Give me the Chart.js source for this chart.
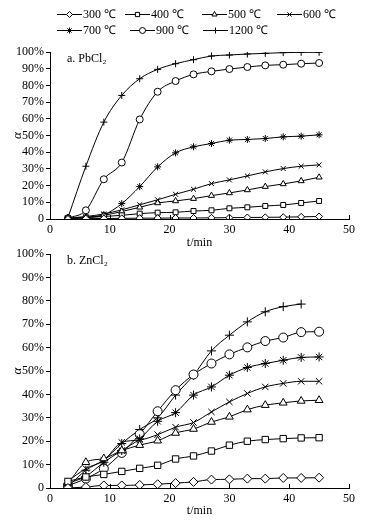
<!DOCTYPE html>
<html>
<head>
<meta charset="utf-8">
<script src="https://cdn.jsdelivr.net/npm/chart.js@4/dist/chart.umd.min.js"></script>
<style>
  body { margin: 0; background: #fff; }
  #wrapA { position: absolute; left: 0; top: 0; width: 366px; height: 250px; }
  #wrapB { position: absolute; left: 0; top: 240px; width: 366px; height: 278px; }
</style>
</head>
<body>
<div id="wrapA"><canvas id="chartA" width="366" height="250"></canvas></div>
<div id="wrapB"><canvas id="chartB" width="366" height="278"></canvas></div>
<script>
const FONT = "'Liberation Serif', 'Times New Roman', serif";

const times = [3, 6, 9, 12, 15, 18, 21, 24, 27, 30, 33, 36, 39, 42, 45];
const seriesNames = ["300 ℃", "400 ℃", "500 ℃", "600 ℃", "700 ℃", "900 ℃", "1200 ℃"];
const markers = ["rectRot", "rect", "triangle", "crossRot", "star", "circle", "cross"];
const xTicks = [0, 10, 20, 30, 40, 50];
const yTicks = [0, 10, 20, 30, 40, 50, 60, 70, 80, 90, 100];

// a. PbCl2, alpha in %
const pb300  = [0, 0.2, 0.3, 0.4, 0.5, 0.5, 0.6, 0.6, 0.7, 0.8, 0.9, 1.0, 1.1, 1.3, 1.5];
const pb400  = [0.3, 0.8, 1.5, 2.2, 3.2, 3.8, 4.0, 4.8, 5.2, 6.4, 7.0, 7.8, 8.4, 9.6, 10.8];
const pb500  = [0.5, 1, 2.2, 4.5, 7, 9.6, 10.8, 12.2, 14, 15.6, 17.4, 19.4, 21, 22.8, 25];
const pb600  = [0.5, 1.5, 3, 5.5, 8.5, 11.5, 14.8, 17.8, 21.2, 23.4, 25.8, 28.2, 30.2, 31.6, 32.4];
const pb700  = [0.5, 1, 2.5, 9.2, 19.4, 31.2, 39.6, 43.2, 45.2, 47.2, 47.6, 48.2, 49.2, 49.6, 50.4];
const pb900  = [0.5, 5.2, 23.8, 33.8, 59.6, 76.2, 82.6, 86.6, 88.4, 89.8, 91, 92, 92.4, 93, 93.4];
const pb1200 = [0.8, 31.6, 58, 74, 84, 89.6, 93, 95.4, 97.6, 98.2, 98.8, 99.2, 99.6, 99.8, 99.8];

// b. ZnCl2, alpha in %
const zn300  = [0, 0.4, 1.1, 1.1, 1.3, 1.6, 2.1, 2.6, 3.6, 3.7, 4.0, 4.0, 4.3, 4.3, 4.4];
const zn400  = [2.8, 4.7, 5.8, 7.1, 8.4, 9.7, 12.4, 13.7, 15.8, 18.3, 20, 20.7, 21.1, 21.4, 21.5];
const zn500  = [2, 11, 12.6, 16, 18.3, 20.2, 23.5, 25.2, 28.2, 30.4, 33.5, 35.4, 36.4, 37.2, 37.5];
const zn600  = [3, 8.3, 11.8, 19.5, 20.5, 22.8, 26, 28, 32.5, 36.8, 40.4, 43.2, 44.7, 45.6, 45.6];
const zn700  = [2, 5, 11, 16, 21, 28.5, 32.2, 39.7, 43.2, 48.2, 51.5, 53.2, 54.6, 55.8, 56];
const zn900  = [1, 4, 8.3, 15, 23, 32.8, 41.8, 48.5, 53.2, 57.1, 60.1, 62.8, 64.3, 66.6, 66.8];
const zn1200 = [0.5, 7.6, 12, 19, 25, 30, 39.7, 48.2, 58.6, 65.3, 71, 75.3, 77.5, 78.6];

function makeSets(list, radius) {
    return list.map(function(values, i) {
        return {
            label: seriesNames[i],
            data: values.map(function(v, j) { return { x: times[j], y: v }; }),
            borderColor: "#000",
            borderWidth: 1,
            backgroundColor: "#fff",
            pointStyle: markers[i],
            pointRadius: radius,
            pointBorderColor: "#000",
            pointBackgroundColor: "#fff",
            pointBorderWidth: 1,
            tension: 0.35,
            cubicInterpolationMode: "monotone"
        };
    });
}

// upward tick marks on x axis + panel label
const panelPlugin = {
    id: "panel",
    afterDraw(chart, args, opts) {
        const ctx = chart.ctx;
        const xs = chart.scales.x;
        const y0 = chart.chartArea.bottom;
        ctx.save();
        ctx.strokeStyle = "#000";
        ctx.lineWidth = 1;
        xTicks.forEach(function(t) {
            const px = Math.round(xs.getPixelForValue(t)) + 0.5;
            ctx.beginPath();
            ctx.moveTo(px, y0);
            ctx.lineTo(px, y0 - 4);
            ctx.stroke();
        });
        ctx.fillStyle = "#000";
        ctx.font = "12px " + FONT;
        ctx.textBaseline = "middle";
        ctx.fillText(opts.text, chart.chartArea.left + 17, chart.chartArea.top + 7);
        ctx.restore();
    }
};

// line+marker legend above panel a
const legendRows = [
    [[0, 57], [1, 125], [2, 202], [3, 277]],
    [[4, 57], [5, 130], [6, 203]]
];
const legendPlugin = {
    id: "lineLegend",
    afterDraw(chart) {
        const ctx = chart.ctx;
        ctx.save();
        ctx.font = "12px " + FONT;
        ctx.textBaseline = "middle";
        legendRows.forEach(function(row, r) {
            const y = 14 + r * 16;
            row.forEach(function(item) {
                const i = item[0], x = item[1];
                ctx.strokeStyle = "#000";
                ctx.lineWidth = 1;
                ctx.beginPath();
                ctx.moveTo(x, y + 0.5);
                ctx.lineTo(x + 25, y + 0.5);
                ctx.stroke();
                ctx.fillStyle = "#fff";
                Chart.helpers.drawPoint(ctx, { pointStyle: markers[i], radius: 3, rotation: 0, borderWidth: 1 }, x + 12.5, y + 0.5);
                ctx.fillStyle = "#000";
                ctx.fillText(seriesNames[i], x + 26, y + 1);
            });
        });
        ctx.restore();
    }
};

function makeOptions(padTop, xHeight, label) {
    return {
        responsive: false,
        animation: false,
        devicePixelRatio: 1,
        layout: { padding: { top: padTop, right: 17, left: 0, bottom: 0 } },
        plugins: {
            legend: { display: false },
            tooltip: { enabled: false },
            panel: { text: label }
        },
        scales: {
            x: {
                type: "linear",
                min: 0,
                max: 50,
                afterBuildTicks: function(scale) { scale.ticks = xTicks.map(function(v) { return { value: v }; }); },
                afterFit: function(scale) { scale.height = xHeight; },
                border: { color: "#000", width: 1 },
                grid: { display: true, drawOnChartArea: false, drawTicks: false },
                ticks: { color: "#000", padding: 4, autoSkip: false, font: { family: FONT, size: 12 }, maxRotation: 0 },
                title: { display: true, text: "t/min", color: "#000", padding: { top: 0, bottom: 0 }, font: { family: FONT, size: 12 } }
            },
            y: {
                min: 0,
                max: 100,
                afterBuildTicks: function(scale) { scale.ticks = yTicks.map(function(v) { return { value: v }; }); },
                afterFit: function(scale) { scale.width = 50; },
                border: { color: "#000", width: 1 },
                grid: { display: true, drawOnChartArea: false, drawTicks: true, tickLength: 4, color: "#000" },
                ticks: {
                    color: "#000",
                    padding: 2,
                    autoSkip: false,
                    font: { family: FONT, size: 12 },
                    callback: function(v) { return v === 0 ? "0" : v + "%"; }
                },
                title: { display: true, text: "α", color: "#000", padding: { top: 10, bottom: 0 }, font: { family: FONT, size: 13, style: "italic" } }
            }
        }
    };
}

new Chart(document.getElementById("chartA"), {
    type: "line",
    data: { datasets: makeSets([pb300, pb400, pb500, pb600, pb700, pb900, pb1200], 3.5) },
    options: makeOptions(52, 31, "a. PbCl₂"),
    plugins: [panelPlugin, legendPlugin]
});

new Chart(document.getElementById("chartB"), {
    type: "line",
    data: { datasets: makeSets([zn300, zn400, zn500, zn600, zn700, zn900, zn1200], 4.5) },
    options: makeOptions(14, 30, "b. ZnCl₂"),
    plugins: [panelPlugin]
});
</script>
</body>
</html>
